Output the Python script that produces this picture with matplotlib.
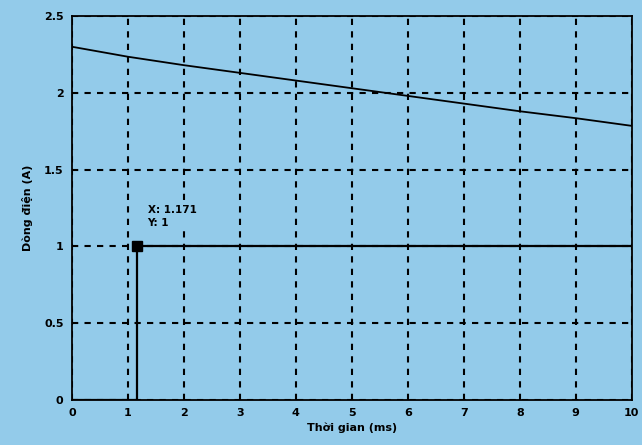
import matplotlib.pyplot as plt
import numpy as np

# dòng điện theo thời gian
t = [0, 1, 2, 3, 4, 5, 6, 7, 8, 9, 10]
i_tai = [2.30, 2.235, 2.18, 2.13, 2.08, 2.03, 1.98, 1.93, 1.88, 1.835, 1.785]

# dòng bậc thang
t_buoc = [0, 1.171, 1.171, 10]
i_buoc = [0, 0, 1, 1]
x_tip, y_tip = 1.171, 1

xticks = [0, 1, 2, 3, 4, 5, 6, 7, 8, 9, 10]
yticks = [0, 0.5, 1, 1.5, 2, 2.5]
ytick_labels = ['0', '0.5', '1', '1.5', '2', '2.5']

bg = '#93cbea'

fig = plt.figure(figsize=(6.42, 4.45), dpi=100, facecolor=bg)
ax = fig.add_axes([0.112, 0.101, 0.872, 0.863], facecolor=bg)

ax.plot(t, i_tai, color='black', lw=1.3)
ax.plot(t_buoc, i_buoc, color='black', lw=1.6)
ax.plot([x_tip], [y_tip], marker='s', color='black', ms=7)
ax.text(x_tip + 0.18, y_tip + 0.12, 'X: 1.171\nY: 1', fontsize=7.5,
        fontweight='bold', va='bottom', linespacing=1.4, zorder=5,
        bbox=dict(facecolor=bg, edgecolor='none', pad=1.5))

ax.set_xlim(0, 10)
ax.set_ylim(0, 2.5)
ax.set_xticks(xticks)
ax.set_yticks(yticks)
ax.set_yticklabels(ytick_labels)
ax.tick_params(length=0, labelsize=8, pad=6)
for lbl in ax.get_xticklabels() + ax.get_yticklabels():
    lbl.set_fontweight('bold')
ax.grid(True, color='black', ls=(0, (3, 3)), lw=1.5)

for s in ax.spines.values():
    s.set_linewidth(1.3)

ax.set_xlabel('Thời gian (ms)', fontsize=8, fontweight='bold', labelpad=3)
ax.set_ylabel('Dòng điện (A)', fontsize=8, fontweight='bold', labelpad=8)

fig.savefig('out.png', dpi=100, facecolor=bg)
